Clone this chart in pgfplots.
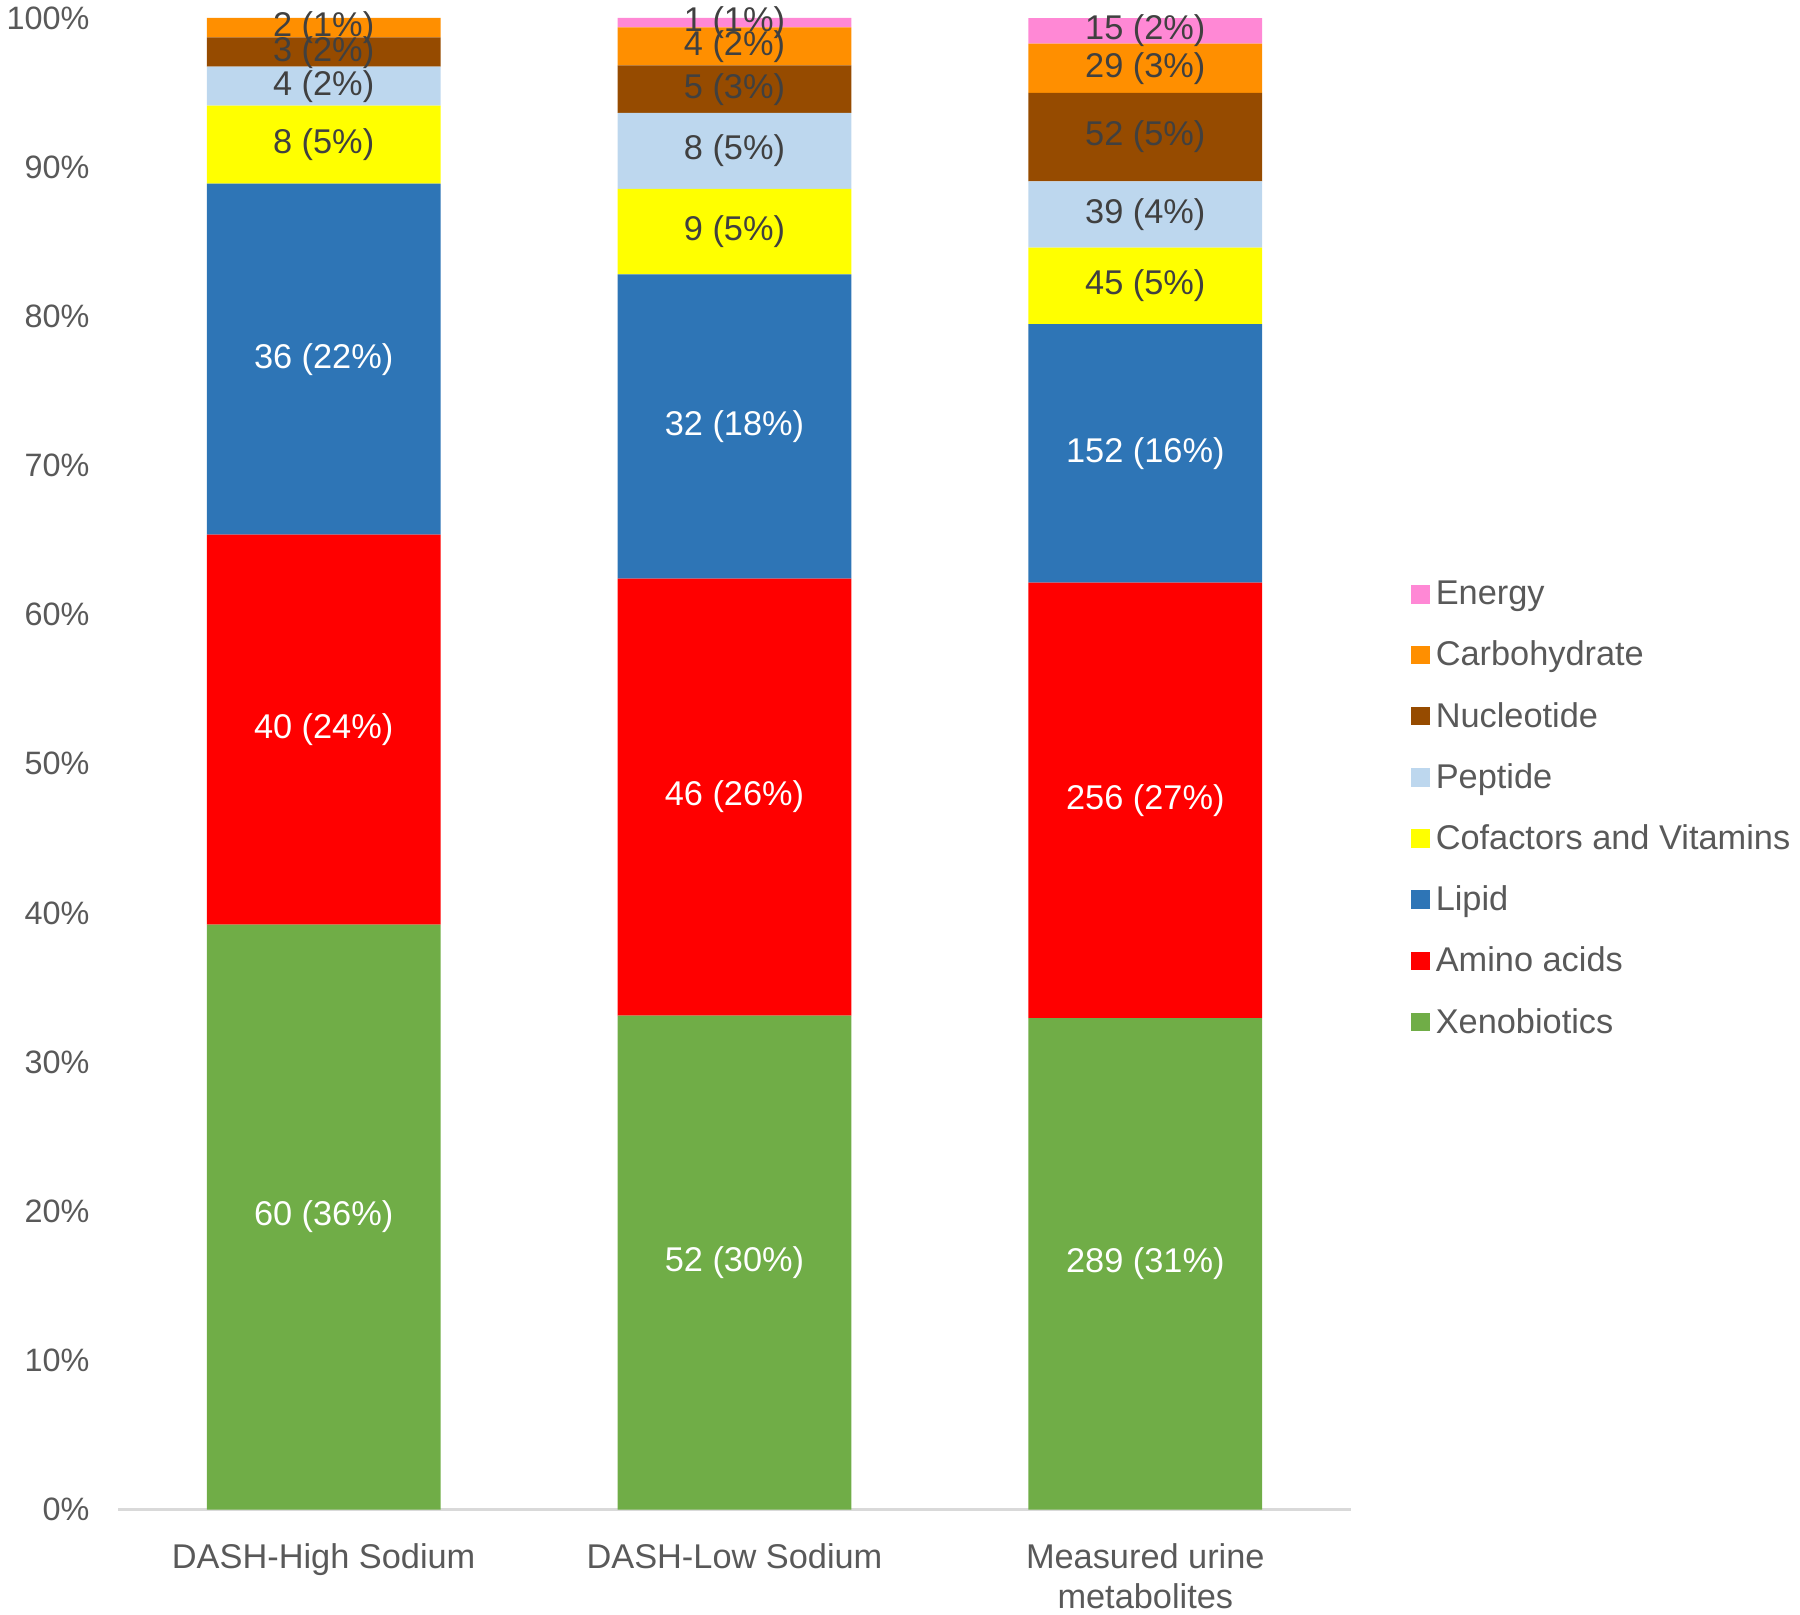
\documentclass[border=0pt]{standalone}
\usepackage{fontspec}
\setmainfont{Liberation Sans}
\usepackage{pgfplots}
\usepackage{pgfplotstable}
\pgfplotsset{compat=1.18}
\definecolor{cXen}{HTML}{70AD47}
\definecolor{cAmi}{HTML}{FF0000}
\definecolor{cLip}{HTML}{2E75B6}
\definecolor{cCof}{HTML}{FFFF00}
\definecolor{cPep}{HTML}{BDD7EE}
\definecolor{cNuc}{HTML}{964B00}
\definecolor{cCar}{HTML}{FF8F00}
\definecolor{cEne}{HTML}{FF88D5}
\definecolor{tickgray}{HTML}{595959}
\definecolor{labgray}{HTML}{404040}
\definecolor{axgray}{HTML}{D9D9D9}

\pgfplotstableread[col sep=comma]{
x,n,tot,lab
0,60,153,60 (36\%)
1,52,157,52 (30\%)
2,289,877,289 (31\%)
}\tXen
\pgfplotstableread[col sep=comma]{
x,n,tot,lab
0,40,153,40 (24\%)
1,46,157,46 (26\%)
2,256,877,256 (27\%)
}\tAmi
\pgfplotstableread[col sep=comma]{
x,n,tot,lab
0,36,153,36 (22\%)
1,32,157,32 (18\%)
2,152,877,152 (16\%)
}\tLip
\pgfplotstableread[col sep=comma]{
x,n,tot,lab
0,8,153,8 (5\%)
1,9,157,9 (5\%)
2,45,877,45 (5\%)
}\tCof
\pgfplotstableread[col sep=comma]{
x,n,tot,lab
0,4,153,4 (2\%)
1,8,157,8 (5\%)
2,39,877,39 (4\%)
}\tPep
\pgfplotstableread[col sep=comma]{
x,n,tot,lab
0,3,153,3 (2\%)
1,5,157,5 (3\%)
2,52,877,52 (5\%)
}\tNuc
\pgfplotstableread[col sep=comma]{
x,n,tot,lab
0,2,153,2 (1\%)
1,4,157,4 (2\%)
2,29,877,29 (3\%)
}\tCar
\pgfplotstableread[col sep=comma]{
x,n,tot,lab
0,0,153,\relax
1,1,157,1 (1\%)
2,15,877,15 (2\%)
}\tEne

\begin{document}
\begin{tikzpicture}
\begin{axis}[
  ybar stacked,
  scale only axis,
  width=628pt, height=760pt,
  xmin=-0.5, xmax=2.5, ymin=0, ymax=100,
  bar width=0.569,
  axis x line*=bottom, axis y line*=left,
  x axis line style={draw=axgray, line width=1.2pt},
  y axis line style={draw=none},
  major tick length=0pt,
  xtick={0,1,2},
  xticklabels={DASH-High Sodium,DASH-Low Sodium,{Measured urine\\metabolites}},
  xticklabel style={align=center, text=tickgray, font=\fontsize{17.5}{20}\selectfont, yshift=-14pt},
  ytick={0,10,...,100},
  yticklabels={0\%,10\%,20\%,30\%,40\%,50\%,60\%,70\%,80\%,90\%,100\%},
  yticklabel style={text=tickgray, font=\fontsize{16.5}{19}\selectfont, xshift=-11.2pt},
  point meta=explicit symbolic,
  nodes near coords,
  every node near coord/.append style={anchor=center, font=\fontsize{17.5}{20}\selectfont},
  legend style={at={(1.044,0.470)}, anchor=west, draw=none, fill=none,
    font=\fontsize{17.5}{20}\selectfont, text=tickgray, row sep=13pt,
    /tikz/every odd column/.append style={column sep=1pt}},
  legend cell align=left,
  reverse legend,
  legend image code/.code={\fill[#1] (0pt,-4.75pt) rectangle (9.5pt,4.75pt);},
]
\addplot[fill=cXen, draw=none, every node near coord/.append style={text=white}] table[x=x, y expr=\thisrow{n}/\thisrow{tot}*100, meta=lab]{\tXen};
\addlegendentry{Xenobiotics}
\addplot[fill=cAmi, draw=none, every node near coord/.append style={text=white}] table[x=x, y expr=\thisrow{n}/\thisrow{tot}*100, meta=lab]{\tAmi};
\addlegendentry{Amino acids}
\addplot[fill=cLip, draw=none, every node near coord/.append style={text=white}] table[x=x, y expr=\thisrow{n}/\thisrow{tot}*100, meta=lab]{\tLip};
\addlegendentry{Lipid}
\addplot[fill=cCof, draw=none, every node near coord/.append style={text=labgray}] table[x=x, y expr=\thisrow{n}/\thisrow{tot}*100, meta=lab]{\tCof};
\addlegendentry{Cofactors and Vitamins}
\addplot[fill=cPep, draw=none, every node near coord/.append style={text=labgray}] table[x=x, y expr=\thisrow{n}/\thisrow{tot}*100, meta=lab]{\tPep};
\addlegendentry{Peptide}
\addplot[fill=cNuc, draw=none, every node near coord/.append style={text=labgray}] table[x=x, y expr=\thisrow{n}/\thisrow{tot}*100, meta=lab]{\tNuc};
\addlegendentry{Nucleotide}
\addplot[fill=cCar, draw=none, every node near coord/.append style={text=labgray}] table[x=x, y expr=\thisrow{n}/\thisrow{tot}*100, meta=lab]{\tCar};
\addlegendentry{Carbohydrate}
\addplot[fill=cEne, draw=none, every node near coord/.append style={text=labgray}] table[x=x, y expr=\thisrow{n}/\thisrow{tot}*100, meta=lab]{\tEne};
\addlegendentry{Energy}
\end{axis}
\end{tikzpicture}
\end{document}
